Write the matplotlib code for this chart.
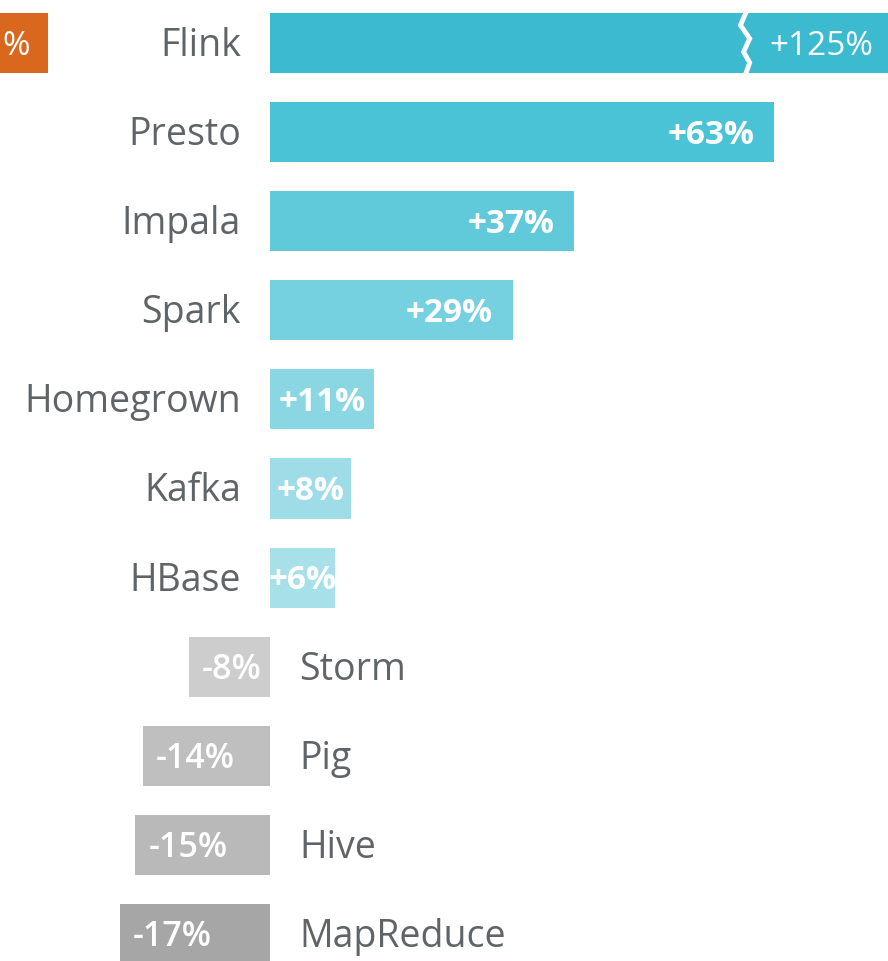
"""
Change in usage by engine: diverging bar chart with a broken Flink bar.
"""

import matplotlib
matplotlib.use("Agg")
import matplotlib.pyplot as plt
from matplotlib.transforms import offset_copy

# ---------------------------------------------------------------------------
# Data
# ---------------------------------------------------------------------------
ENGINES = ["Flink", "Presto", "Impala", "Spark", "Homegrown", "Kafka", "HBase",
           "Storm", "Pig", "Hive", "MapReduce"]
CHANGE_PCT = [125, 63, 37, 29, 11, 8, 6, -8, -14, -15, -17]
BAR_COLORS = ["#3bbad0", "#4bc3d7", "#60c9da", "#75d0df", "#8ad6e3", "#9edde8",
              "#a8e0ea", "#cdcdcd", "#bfbfbf", "#b9b9b9", "#a6a6a6"]
NEIGHBOR_LABEL = "%"          # only the tail of the next panel's label shows

# ---------------------------------------------------------------------------
# Style
# ---------------------------------------------------------------------------
FONT = ["Open Sans", "DejaVu Sans"]
TEXT_GRAY = "#5f6468"
PX_PER_PCT = 7.7              # horizontal scale
STUB = 2.5                    # minimum stub every bar gets, in %
BREAK_AT = 61.8               # where the Flink bar is broken, in %
W, H, DPI = 888, 962, 100
ZERO_PX = 270
ROW_PX = 89.1
FIRST_ROW_PX = 44

plt.rcParams["font.family"] = FONT

fig = plt.figure(figsize=(W / DPI, H / DPI), dpi=DPI)
ax = fig.add_axes([0, 0, 1, 1])
x_max = (W - ZERO_PX) / PX_PER_PCT
ax.set_xlim(-ZERO_PX / PX_PER_PCT, x_max)
ax.set_ylim((H - FIRST_ROW_PX) / ROW_PX, -FIRST_ROW_PX / ROW_PX)
ax.axis("off")


def shifted(dx, dy=-2):
    return offset_copy(ax.transData, fig, x=dx, y=dy, units="dots")


rows = list(range(len(ENGINES)))
widths = [v + STUB if v > 0 else v - STUB for v in CHANGE_PCT]
ax.barh(rows, widths, height=0.675, color=BAR_COLORS, linewidth=0)

for y, name, v, w in zip(rows, ENGINES, CHANGE_PCT, widths):
    label = f"{v:+d}%"
    if v > 0:
        # engine name to the left of the axis
        ax.text(0, y, name, ha="right", va="center", fontsize=27,
                color=TEXT_GRAY, transform=shifted(-29))
        if w > x_max:
            # bar runs off the chart: label sits after the break
            ax.text(BREAK_AT + 3.0, y, label, ha="left", va="center",
                    fontsize=24, color="white", transform=shifted(0))
        elif w * PX_PER_PCT > 200:
            ax.text(w, y, label, ha="right", va="center", fontsize=24,
                    fontweight="bold", color="white", transform=shifted(-20))
        else:
            ax.text(w / 2, y, label, ha="center", va="center", fontsize=24,
                    fontweight="bold", color="white", transform=shifted(0))
    else:
        ax.text(0, y, name, ha="left", va="center", fontsize=27,
                color=TEXT_GRAY, transform=shifted(29))
        ax.text(w, y, label, ha="left", va="center",
                fontsize=24.5, fontweight="semibold", color="white",
                transform=shifted(13))

# zigzag break across the Flink bar
zig_x = [0.0, -0.7, 0.5, -0.3, 0.5, 0.0]
zig_y = [-0.34, -0.2, -0.05, 0.1, 0.22, 0.34]
ax.plot([BREAK_AT + dx for dx in zig_x], [rows[0] + dy for dy in zig_y],
        color="white", linewidth=3.5, solid_joinstyle="miter")

# sliver of the neighbouring panel, cut off by the left edge
nb = fig.add_axes([-0.2, 0, 0.254, 1])
nb.set_xlim(0, 1)
nb.set_ylim(ax.get_ylim())
nb.axis("off")
nb.barh([rows[0]], [1], height=0.675, color="#d9671e", linewidth=0)
nb.text(0.86, rows[0], NEIGHBOR_LABEL, ha="center", va="center",
        fontsize=24, color="white",
        transform=offset_copy(nb.transData, fig, x=0, y=-2, units="dots"))

fig.savefig("out.png", dpi=DPI)
print("[OK] saved out.png")
